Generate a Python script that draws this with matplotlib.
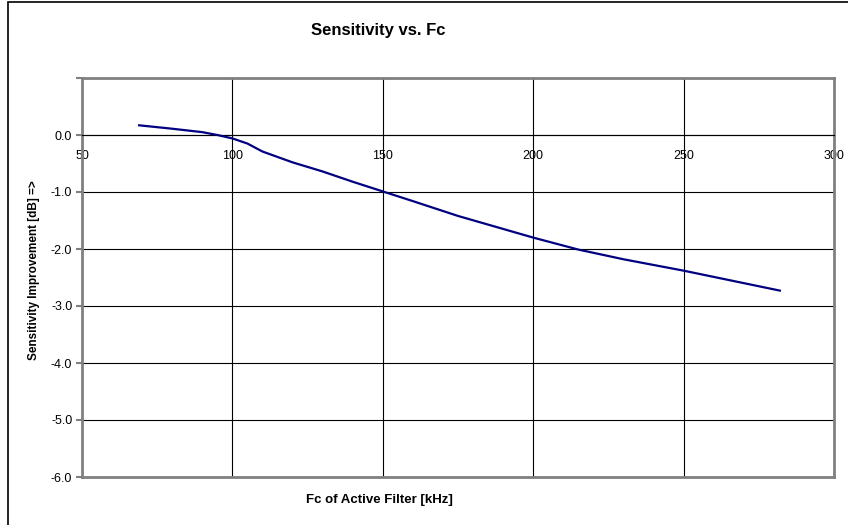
import matplotlib
matplotlib.use("Agg")
import matplotlib.pyplot as plt
from matplotlib.patches import Rectangle

plt.rcParams['font.family'] = ['Liberation Sans', 'DejaVu Sans']

# Fc of active filter [kHz] vs sensitivity improvement [dB]
fc = [69, 80, 90, 95, 100, 105, 110, 120, 130, 140, 150, 160, 175, 200, 215, 230, 250, 282]
sens = [0.17, 0.11, 0.05, 0.0, -0.06, -0.15, -0.29, -0.48, -0.64, -0.82, -0.99,
        -1.16, -1.42, -1.80, -2.01, -2.18, -2.38, -2.73]

xticks = [50, 100, 150, 200, 250, 300]
yticks = [-6, -5, -4, -3, -2, -1, 0, 1]
ylabels = ['-6.0', '-5.0', '-4.0', '-3.0', '-2.0', '-1.0', '0.0', '']

fig = plt.figure(figsize=(8.48, 5.25), dpi=100)
ax = fig.add_axes([82/848, 1 - 477/525, (834 - 82)/848, (477 - 78)/525])

ax.plot(fc, sens, color='#000080', lw=1.6, zorder=3)

ax.set_xlim(50, 300)
ax.set_ylim(-6, 1)
ax.set_xticks(xticks)
ax.set_yticks(yticks)
ax.set_yticklabels(ylabels)

# grid
ax.grid(True, color='black', lw=0.8)
ax.set_axisbelow(True)

# x axis crosses at y = 0
for s in ['left', 'top', 'right']:
    ax.spines[s].set_color('#808080')
    ax.spines[s].set_linewidth(2)
ax.spines['bottom'].set_position(('data', 0))
ax.spines['bottom'].set_color('black')
ax.spines['bottom'].set_linewidth(0.8)
ax.axhline(-6, color='#808080', lw=2, clip_on=False, zorder=4)

ax.tick_params(axis='x', length=0, pad=11, labelsize=9)
ax.tick_params(axis='y', length=4, width=1.5, color='#808080', labelsize=9, pad=3)

fig.text(34/848, 1 - 270/525, 'Sensitivity Improvement [dB] =>', fontsize=8.5,
         fontweight='bold', rotation=90, ha='center', va='center')
fig.text(379/848, 1 - 500/525, 'Fc of Active Filter [kHz]', fontsize=9.5, fontweight='bold',
         ha='center', va='center')
fig.text(378/848, 1 - 30/525, 'Sensitivity vs. Fc', fontsize=12, fontweight='bold',
         ha='center', va='center')

# chart frame (only left and top visible)
fig.patches.append(Rectangle((8/848, -0.1), 1.2, 1 - 2/525 + 0.1, transform=fig.transFigure,
                             fill=False, edgecolor='black', lw=1.2))

fig.savefig('out.png', dpi=100)
